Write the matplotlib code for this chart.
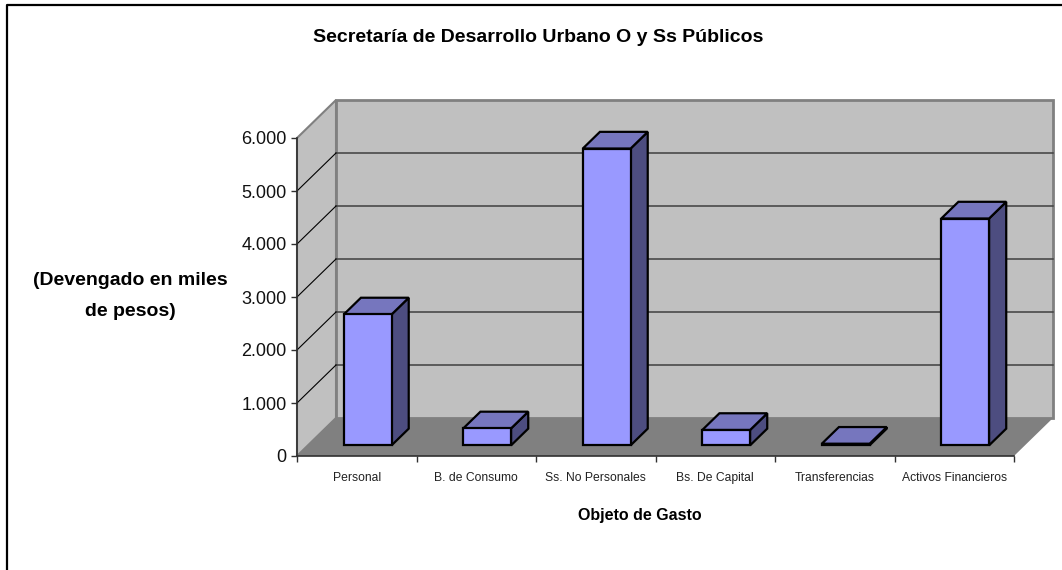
"""Gasto devengado por objeto, columnas 3D estilo Excel."""
import matplotlib
matplotlib.use("Agg")
import matplotlib.pyplot as plt
from matplotlib.patches import Polygon

categories = ["Personal", "B. de Consumo", "Ss. No Personales", "Bs. De Capital",
              "Transferencias", "Activos Financieros"]
values = [2470, 320, 5600, 290, 30, 4280]
y_ticks = [0, 1000, 2000, 3000, 4000, 5000, 6000]
y_tick_labels = ["0", "1.000", "2.000", "3.000", "4.000", "5.000", "6.000"]

W, H = 1062, 570
LEFT, RIGHT, TOP, BOTTOM = 297, 1014, 138, 456

plt.rcParams["font.family"] = ["Liberation Sans", "DejaVu Sans"]

fig = plt.figure(figsize=(W / 100, H / 100), dpi=100)
ax = fig.add_axes([LEFT / W, 1 - BOTTOM / H, (RIGHT - LEFT) / W, (BOTTOM - TOP) / H])
ax.patch.set_visible(False)
ax.set_xlim(0, len(categories))
ax.set_ylim(0, 6000)

# depth of the fake 3D box, in data units
DX = 39 / (RIGHT - LEFT) * len(categories)
DY = 38 / (BOTTOM - TOP) * 6000


def poly(pts, face, edge="none", lw=0, z=1):
    ax.add_patch(Polygon(pts, closed=True, facecolor=face, edgecolor=edge, linewidth=lw,
                         joinstyle="miter", clip_on=False, zorder=z))


n = len(categories)
# walls and floor
poly([(0, 0), (DX, DY), (DX, 6000 + DY), (0, 6000)], "#C0C0C0", "#808080", 1.5, 1)
poly([(DX, DY), (n + DX, DY), (n + DX, 6000 + DY), (DX, 6000 + DY)], "#C0C0C0", "#808080", 2, 1)
poly([(0, 0), (n, 0), (n + DX, DY), (DX, DY)], "#808080", z=2)

# gridlines
for v in y_ticks[1:-1]:
    ax.plot([DX, n + DX], [v + DY, v + DY], color="#404040", lw=1.1, clip_on=False, zorder=3)
    ax.plot([0, DX], [v, v + DY], color="black", lw=0.8, clip_on=False, zorder=3)

# columns
BAR_W = 0.40
FRONT, BACK = 0.28, 0.72
for i, val in enumerate(values):
    x0 = i + 0.5 - BAR_W / 2 + FRONT * DX
    x1 = x0 + BAR_W
    y0 = FRONT * DY
    y1 = y0 + val
    ox = (BACK - FRONT) * DX
    oy = (BACK - FRONT) * DY
    poly([(x1, y0), (x1 + ox, y0 + oy), (x1 + ox, y1 + oy), (x1, y1)], "#4D4D80", "black", 1.6, 5)
    poly([(x0, y1), (x1, y1), (x1 + ox, y1 + oy), (x0 + ox, y1 + oy)], "#7676BE", "black", 1.6, 5)
    poly([(x0, y0), (x1, y0), (x1, y1), (x0, y1)], "#9999FF", "black", 1.6, 6)

# axes
for s in ["top", "right"]:
    ax.spines[s].set_visible(False)
for s in ["left", "bottom"]:
    ax.spines[s].set_color("#303030")
    ax.spines[s].set_linewidth(1.2)
    ax.spines[s].set_zorder(4)

ax.set_yticks(y_ticks)
ax.set_yticklabels(y_tick_labels, fontsize=13, color="#111111")
ax.tick_params(axis="y", length=4.3, width=1, color="#303030", pad=3)
ax.set_xticks(range(n + 1))
ax.set_xticklabels([])
ax.tick_params(axis="x", which="major", length=4.3, width=1, color="#303030")
ax.set_xticks([i + 0.5 for i in range(n)], minor=True)
ax.set_xticklabels(categories, minor=True, fontsize=8.7, color="#222222")
ax.tick_params(axis="x", which="minor", length=0, pad=11.5)

ax.set_xlabel("Objeto de Gasto", fontsize=11.5, fontweight="bold")
ax.xaxis.set_label_coords((640 - LEFT) / (RIGHT - LEFT), -(508 - BOTTOM) / (BOTTOM - TOP))
ax.set_ylabel("(Devengado en miles\nde pesos)", fontsize=14, fontweight="bold",
              rotation=0, ha="center", va="center", linespacing=2.15)
ax.yaxis.set_label_coords((130 - LEFT) / (RIGHT - LEFT), (BOTTOM - 296) / (BOTTOM - TOP))

fig.text(538 / W, 1 - 37 / H, "Secretaría de Desarrollo Urbano O y Ss Públicos",
         fontsize=14, fontweight="bold", ha="center", va="center")

# chart frame, only top and left survive in the crop
fig.add_artist(plt.Line2D([7 / W, 7 / W, 1], [0, 1 - 5 / H, 1 - 5 / H], color="black", lw=1.6))

fig.savefig("out.png", dpi=100)
